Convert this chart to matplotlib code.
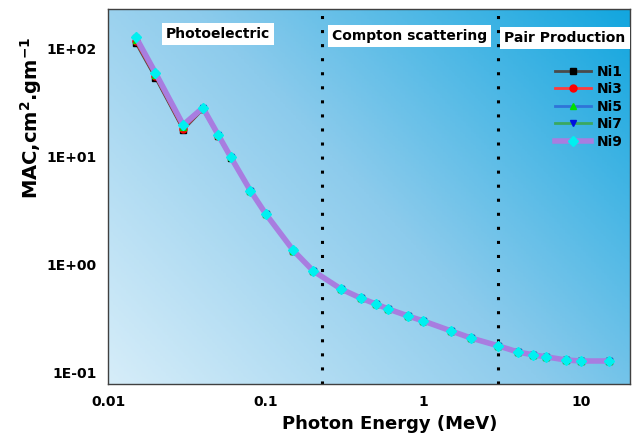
import numpy as np
import matplotlib
matplotlib.use("Agg")
import matplotlib.pyplot as plt
from matplotlib.colors import LinearSegmentedColormap
from matplotlib.ticker import FixedLocator, FixedFormatter

plt.rcParams['font.family'] = ['DejaVu Sans']
plt.rcParams['font.weight'] = 'bold'
plt.rcParams['mathtext.default'] = 'bf'

# photon energy (MeV)
energy = [0.015, 0.02, 0.03, 0.04, 0.05, 0.06, 0.08, 0.1, 0.15, 0.2, 0.3, 0.4,
          0.5, 0.6, 0.8, 1, 1.5, 2, 3, 4, 5, 6, 8, 10, 15]

# common high-energy tail (from 0.3 MeV up)
tail = [0.60, 0.494, 0.435, 0.391, 0.337, 0.303, 0.245, 0.211, 0.178, 0.156,
        0.147, 0.141, 0.132, 0.129, 0.129]

ni1 = [114, 54, 17.8, 27.6, 15.6, 9.8, 4.8, 2.94, 1.34, 0.875] + tail
ni3 = [118, 56, 18.3, 27.9, 15.7, 9.9, 4.82, 2.95, 1.345, 0.877] + tail
ni5 = [122, 57.5, 18.8, 28.1, 15.8, 9.95, 4.84, 2.96, 1.35, 0.879] + tail
ni7 = [125, 58.8, 19.3, 28.3, 15.9, 10.0, 4.86, 2.97, 1.355, 0.88] + tail
ni9 = [129, 60, 19.8, 28.5, 16.0, 10.0, 4.88, 2.98, 1.36, 0.882] + tail

names = ['Ni1', 'Ni3', 'Ni5', 'Ni7', 'Ni9']
series = [ni1, ni3, ni5, ni7, ni9]
line_colors = ['#4a4a4a', '#ff3b3b', '#2f74d8', '#3aa860', '#a87de0']
marker_colors = ['#000000', '#ff0000', '#00e000', '#0010e0', '#00f0f0']
markers = ['s', 'o', '^', 'v', 'D']
widths = [2, 2, 2, 2, 4]

fig = plt.figure(figsize=(6.36, 4.37), dpi=100)
ax = fig.add_axes([108 / 636, 1 - 384 / 437, 522 / 636, 375 / 437])

# diagonal gradient background
cmap = LinearSegmentedColormap.from_list('bg', ['#d6edf9', '#8ccbec', '#12a6df'])
gx, gy = np.meshgrid(np.linspace(0, 1, 200), np.linspace(0, 1, 200))
grad = (gx * 0.6 + gy * 0.4)
ax.imshow(grad, cmap=cmap, extent=[0, 1, 0, 1], origin='lower',
          transform=ax.transAxes, aspect='auto', zorder=0)

for name, y, lc, mc, mk, lw in zip(names, series, line_colors, marker_colors, markers, widths):
    ax.plot(energy, y, color=lc, lw=lw, marker=mk, markersize=5,
            markerfacecolor=mc, markeredgecolor=mc, label=name, zorder=3)

ax.set_xscale('log')
ax.set_yscale('log')
ax.set_xlim(0.01, 20.5)
ax.set_ylim(0.079, 234)

# region boundaries
for xv in [0.228, 3.0]:
    ax.axvline(xv, color='black', lw=2.2, linestyle=(0, (1, 3.6)), zorder=2)

box = dict(facecolor='white', edgecolor='none', pad=3)
ax.text(0.05, 138, 'Photoelectric', fontsize=10, fontweight='bold', ha='center', va='center', bbox=box, zorder=4)
ax.text(0.82, 132, 'Compton scattering', fontsize=10, fontweight='bold', ha='center', va='center', bbox=box, zorder=4)
ax.text(7.9, 126, 'Pair Production', fontsize=10, fontweight='bold', ha='center', va='center', bbox=box, zorder=4)

ax.xaxis.set_major_locator(FixedLocator([0.01, 0.1, 1, 10]))
ax.xaxis.set_major_formatter(FixedFormatter(['0.01', '0.1', '1', '10']))
ax.xaxis.set_minor_locator(FixedLocator([]))
ax.yaxis.set_major_locator(FixedLocator([0.1, 1, 10, 100]))
ax.yaxis.set_major_formatter(FixedFormatter(['1E-01', '1E+00', '1E+01', '1E+02']))
ax.yaxis.set_minor_locator(FixedLocator([]))
ax.tick_params(length=0, labelsize=10, pad=8)
for lab in ax.get_xticklabels() + ax.get_yticklabels():
    lab.set_fontweight('bold')

for sp in ax.spines.values():
    sp.set_color('#404040')
    sp.set_linewidth(1)

ax.set_xlabel('Photon Energy (MeV)', fontsize=13, fontweight='bold')
ax.xaxis.set_label_coords(0.54, -0.083)
ax.set_ylabel('MAC,cm$^{2}$.gm$^{-1}$', fontsize=14, fontweight='bold')
ax.yaxis.set_label_coords(-0.122, 0.71)

leg = ax.legend(loc='upper right', bbox_to_anchor=(1.01, 0.885), frameon=False,
                fontsize=10, handlelength=2.6, handletextpad=0.4, labelspacing=0.25)
for t in leg.get_texts():
    t.set_fontweight('bold')

fig.savefig('out.png', dpi=100)
